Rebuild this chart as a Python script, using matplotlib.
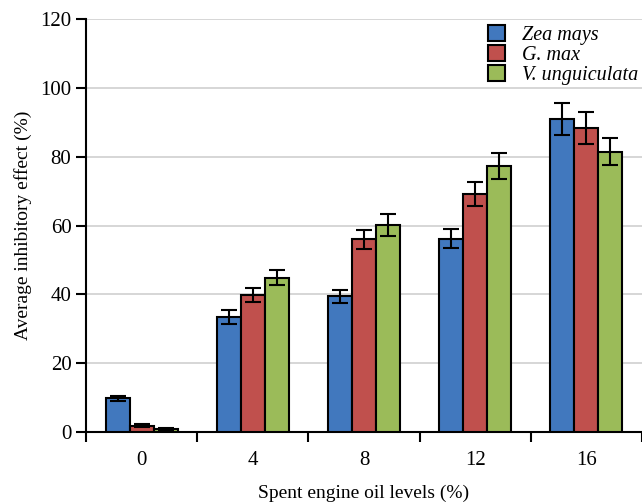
import numpy as np
import matplotlib.pyplot as plt

levels = ['0', '4', '8', '12', '16']
species = ['Zea mays', 'G. max', 'V. unguiculata']
zea = [9.8, 33.4, 39.4, 56.2, 91.0]
gmax = [1.8, 39.9, 56.0, 69.3, 88.4]
vung = [0.8, 44.8, 60.2, 77.3, 81.5]
zea_err = [0.7, 2.0, 2.0, 2.8, 4.7]
gmax_err = [0.4, 2.0, 2.7, 3.5, 4.6]
vung_err = [0.4, 2.2, 3.1, 3.9, 3.9]
colors = ['#4178BE', '#C0504D', '#9BBB59']

plt.rcParams['font.family'] = ['Liberation Serif', 'DejaVu Serif']

fig = plt.figure(figsize=(6.42, 5.04), dpi=100)
ax = fig.add_axes([0.134, 0.143, 0.866, 0.819])

x = np.arange(len(levels))
w = 0.216
for i, (vals, errs) in enumerate(zip([zea, gmax, vung], [zea_err, gmax_err, vung_err])):
    ax.bar(x + (i - 1) * w, vals, w, color=colors[i], edgecolor='black',
           linewidth=1.5, label=species[i], zorder=3,
           yerr=errs, error_kw=dict(ecolor='black', elinewidth=1.5,
                                    capsize=6, capthick=1.5, zorder=4))

ax.set_xlim(-0.5, len(levels) - 0.5)
ax.set_ylim(0, 120)
ax.set_yticks(range(0, 121, 20))
ax.grid(axis='y', color='#D0D0D0', linewidth=1.2, zorder=0)

ax.set_xticks(x)
ax.set_xticklabels(levels)
ax.set_xticks(np.arange(-0.5, len(levels), 1), minor=True)
ax.tick_params(axis='x', which='major', length=0, pad=14, labelsize=15)
ax.tick_params(axis='x', which='minor', length=7, width=1.5, direction='out')
ax.tick_params(axis='y', length=7, width=1.5, direction='out', labelsize=15)

for s in ['top', 'right']:
    ax.spines[s].set_visible(False)
for s in ['left', 'bottom']:
    ax.spines[s].set_linewidth(1.5)

ax.set_xlabel('Spent engine oil levels (%)', fontsize=14, labelpad=10)
ax.set_ylabel('Average inhibitory effect (%)', fontsize=14, labelpad=6)

leg = ax.legend(loc='upper right', bbox_to_anchor=(1.025, 1.03), frameon=False,
                prop={'style': 'italic', 'size': 14.5}, handlelength=0.85,
                handleheight=0.85, handletextpad=0.8, labelspacing=0.0)

fig.savefig('out.png', dpi=100)
